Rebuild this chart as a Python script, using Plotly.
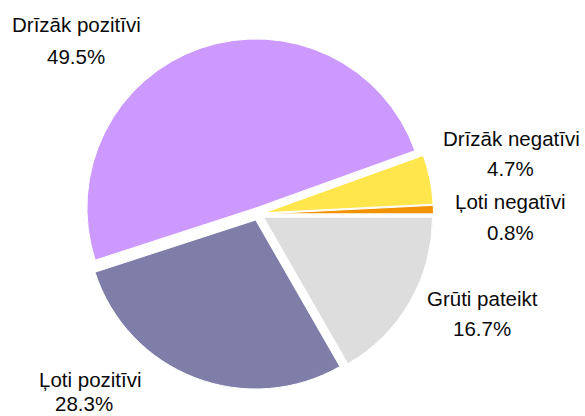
import plotly.graph_objects as go

categories = ["Grūti pateikt", "Ļoti pozitīvi", "Drīzāk pozitīvi", "Drīzāk negatīvi", "Ļoti negatīvi"]
values = [16.7, 28.3, 49.5, 4.7, 0.8]
colors = ["#DDDDDD", "#7F7EA8", "#CC99FF", "#FFE64D", "#F29200"]

W, H = 585, 416
cx, cy, r, pull = 258, 214, 169, 0.038
half = r * (1 + pull)

fig = go.Figure(go.Pie(
    labels=categories,
    values=values,
    sort=False,
    direction="clockwise",
    rotation=90,
    pull=[pull] * len(values),
    marker=dict(colors=colors, line=dict(color="white", width=1)),
    textinfo="none",
    hoverinfo="label+percent",
    showlegend=False,
    domain=dict(x=[(cx - half) / W, (cx + half) / W],
                y=[(H - cy - half) / H, (H - cy + half) / H]),
))

# label positions (pixel centres: name line, percent line)
label_pos = {
    "Drīzāk pozitīvi": ((76, 24.6), (75.5, 56.6)),
    "Drīzāk negatīvi": ((511, 138.6), (510, 168.6)),
    "Ļoti negatīvi": ((510, 201.6), (510, 232.6)),
    "Grūti pateikt": ((482.5, 298.6), (482, 328.6)),
    "Ļoti pozitīvi": ((90, 379.6), (84, 403.5)),
}
font = dict(family="Liberation Sans, Arial, sans-serif", size=20.5, color="#0a0a0a")
annotations = []
for cat, val in zip(categories, values):
    (x1, y1), (x2, y2) = label_pos[cat]
    for (px, py), txt in (((x1, y1), cat), ((x2, y2), f"{val:.1f}%")):
        annotations.append(dict(
            x=px / W, y=1 - py / H, xref="paper", yref="paper",
            text=txt, showarrow=False, xanchor="center", yanchor="middle",
            font=font,
        ))

fig.update_layout(
    width=W, height=H,
    margin=dict(l=0, r=0, t=0, b=0),
    paper_bgcolor="white",
    plot_bgcolor="white",
    annotations=annotations,
)

fig.write_html(
    "out.html",
    config={"displayModeBar": False},
    post_script="document.body.style.margin='0';document.body.style.overflow='hidden';",
)
